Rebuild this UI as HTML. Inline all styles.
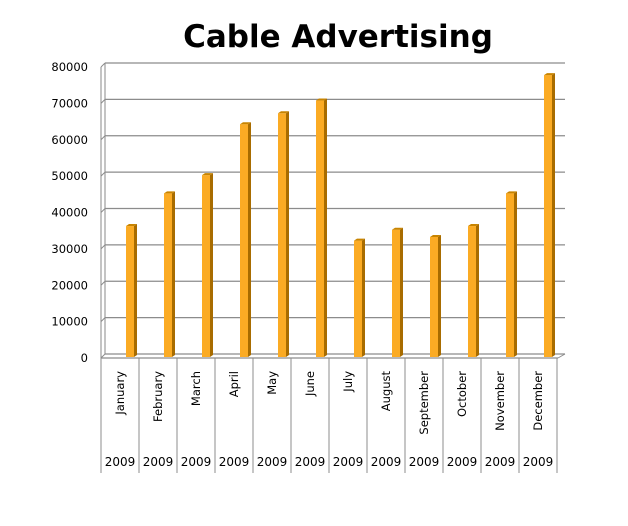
<!DOCTYPE html>
<html><head><meta charset="utf-8"><style>
body{margin:0;background:#fff;}
svg{display:block;font-family:"DejaVu Sans","Liberation Sans",sans-serif;}
</style></head><body>
<svg id="chart" width="628" height="526" viewBox="0 0 628 526">
<text x="338" y="47" text-anchor="middle" font-size="31" font-weight="bold" fill="#000">Cable Advertising</text>
<g id="grid"></g><g id="bars"></g><g id="xaxis"></g>
</svg>
<script>
const categories=["January","February","March","April","May","June","July","August","September","October","November","December"];
const years=["2009","2009","2009","2009","2009","2009","2009","2009","2009","2009","2009","2009"];
const values=[36000,45000,50000,64000,67000,70500,32000,35000,33000,36000,45000,77500];
const ticks=[0,10000,20000,30000,40000,50000,60000,70000,80000];
const NS="http://www.w3.org/2000/svg";
function mk(tag,at,parent){const e=document.createElementNS(NS,tag);for(const k in at)e.setAttribute(k,at[k]);parent.appendChild(e);return e;}
const x0=101,catW=38,yMax=80000;
function yBack(v){return 354-v/yMax*291;}
function yFront(v){return 357-v/yMax*291;}
function xCat(i){return x0+i*catW;}
const grid=document.getElementById('grid');
mk('line',{x1:105,y1:yBack(0),x2:105,y2:yBack(yMax),stroke:'#888','stroke-width':1},grid);
mk('line',{x1:101,y1:yBack(0)+4,x2:101,y2:yBack(yMax)+4,stroke:'#888','stroke-width':1},grid);
ticks.forEach(t=>{
  const y=yBack(t);
  const g=mk('g',{},grid);
  
  
  mk('line',{x1:105,y1:y,x2:565,y2:y,stroke:'#8c8c8c','stroke-width':1.3},g);
  mk('line',{x1:101,y1:y+4,x2:105,y2:y,stroke:'#8c8c8c','stroke-width':1},g);
  const tx=mk('text',{x:88,y:y+8,'text-anchor':'end','font-size':11.5,fill:'#000'},g);
  tx.textContent=t;
  
  
});
mk('line',{x1:101,y1:358,x2:558,y2:358,stroke:'#8c8c8c','stroke-width':1.3},grid);
mk('line',{x1:558,y1:358,x2:565,y2:354,stroke:'#8c8c8c','stroke-width':1},grid);
const bars=document.getElementById('bars');
values.forEach((v,i)=>{
  const xl=xCat(i)+25,w=8,d=3,yt=yFront(v),yb=357;
  const g=mk('g',{},bars);
  
  
  mk('rect',{x:xl,y:yt,width:w,height:yb-yt,fill:'#fbab24'},g);
  mk('polygon',{points:`${xl+w},${yt} ${xl+w+d},${yt-2} ${xl+w+d},${yb-2} ${xl+w},${yb}`,fill:'#a86c00'},g);
  mk('polygon',{points:`${xl},${yt} ${xl+d},${yt-2} ${xl+w+d},${yt-2} ${xl+w},${yt}`,fill:'#c88400'},g);
});
const xa=document.getElementById('xaxis');
for(let i=0;i<=categories.length;i++){
  const l=mk('line',{x1:xCat(i),y1:358,x2:xCat(i),y2:473,stroke:'#8c8c8c','stroke-width':1},xa);
  
  
}
categories.forEach((c,i)=>{
  const cx=xCat(i)+catW/2;
  const t=mk('text',{x:0,y:0,'text-anchor':'end','font-size':11.5,fill:'#000',transform:`translate(${cx+4},371) rotate(-90)`},xa);
  t.textContent=c;
  
  
  const yt=mk('text',{x:cx,y:466,'text-anchor':'middle','font-size':12,fill:'#000'},xa);
  yt.textContent=years[i];
  
  
});
</script>
</body></html>
